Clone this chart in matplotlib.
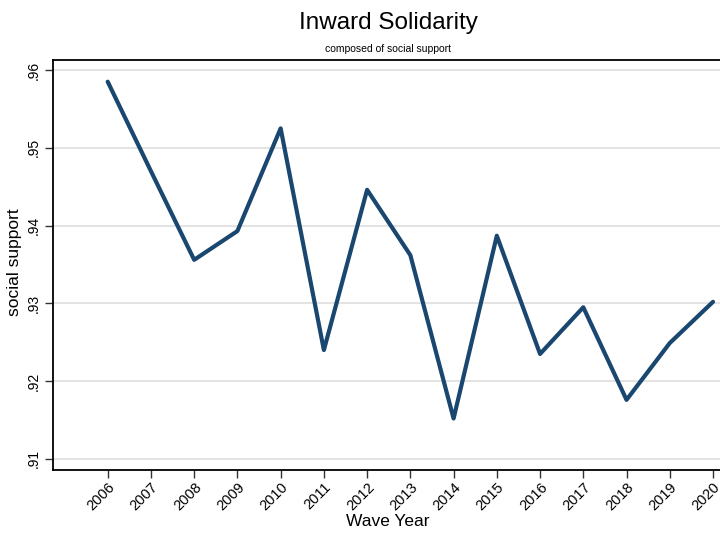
import matplotlib
matplotlib.use("Agg")
import matplotlib.pyplot as plt

years = [2006, 2007, 2008, 2009, 2010, 2011, 2012, 2013, 2014, 2015, 2016, 2017, 2018, 2019, 2020]
social_support = [0.9585, 0.9470, 0.9356, 0.9393, 0.9525, 0.9240, 0.9446, 0.9362, 0.9152,
                  0.9387, 0.9235, 0.9295, 0.9176, 0.9249, 0.9302]
yticks = [0.91, 0.92, 0.93, 0.94, 0.95, 0.96]
ytick_labels = [".91", ".92", ".93", ".94", ".95", ".96"]

plt.rcParams['font.family'] = ['Liberation Sans', 'DejaVu Sans']

W, H = 720, 536
fig = plt.figure(figsize=(W / 100, H / 100), dpi=100)
fig.patch.set_facecolor('white')

px_per_year = (713 - 107.7) / 14
x_left = 2006 - (107.7 - 53) / px_per_year
x_right = x_left + (720 - 53) / px_per_year

ax = fig.add_axes([53 / W, 1 - 470 / H, (720 - 53) / W, (470 - 60) / H])
ax.plot(years, social_support, color='#1a476f', linewidth=3.0, solid_joinstyle='round',
        solid_capstyle='round', zorder=3)

ax.set_xlim(x_left, x_right)
ax.set_ylim(0.90858, 0.96129)
ax.set_yticks(yticks)
ax.set_yticklabels(ytick_labels, rotation=90, va='center', fontsize=10)
ax.set_xticks(years)
ax.set_xticklabels([str(y) for y in years], rotation=45, ha='right', va='top',
                   rotation_mode='anchor', fontsize=10.5)
ax.tick_params(axis='both', length=6, width=1.0, color='#333333')
ax.tick_params(axis='x', pad=1.5)
ax.tick_params(axis='y', pad=3)
ax.grid(axis='y', color='#e3e3e3', linewidth=1.4, zorder=0)
ax.set_axisbelow(True)
for s in ['left', 'bottom', 'top']:
    ax.spines[s].set_linewidth(1.3)
    ax.spines[s].set_color('black')
ax.spines['right'].set_visible(False)

fig.text(388 / W, 1 - 29.5 / H, "Inward Solidarity", ha='center', va='baseline', fontsize=17.5)
fig.text(388 / W, 1 - 52 / H, "composed of social support", ha='center', va='baseline', fontsize=7.5)
fig.text(388 / W, 1 - 521 / H, "Wave Year", ha='center', va='center', fontsize=12.5)
fig.text(15 / W, 1 - 262 / H, "social support", ha='center', va='center', rotation=90, fontsize=12.5)

fig.savefig("out.png", dpi=100, facecolor='white')
